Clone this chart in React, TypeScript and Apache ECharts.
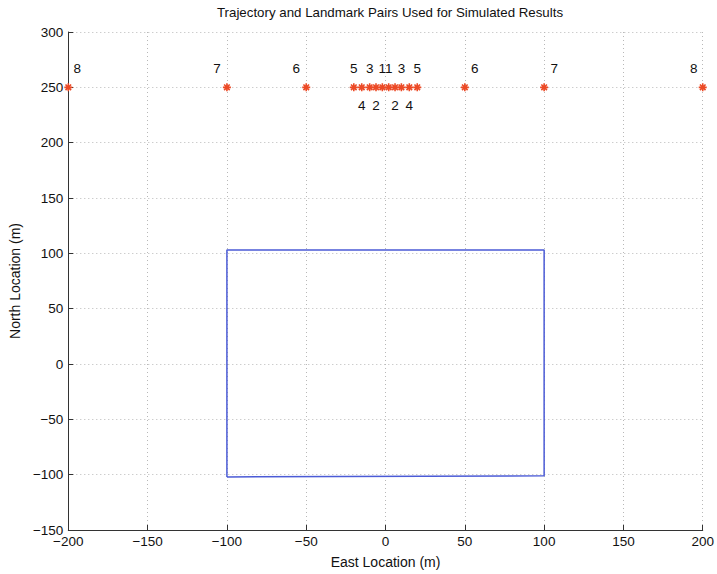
import React, { useEffect, useRef } from "react";
import * as echarts from "echarts";

// Landmark pairs: each pair sits symmetrically east/west of the origin at the same north coordinate
const pairIds = [1, 2, 3, 4, 5, 6, 7, 8];
const pairEast = [2, 6, 10, 15, 20, 50, 100, 200];
const landmarkNorth = 250;

// Vehicle trajectory (closed loop)
const trajEast = [-100, -100, 100, 100, -100];
const trajNorth = [-102, 103, 103, -101, -102];

const xTicks = { min: -200, max: 200, step: 50 };
const yTicks = { min: -150, max: 300, step: 50 };

const FONT = "'Liberation Sans', Arial, Helvetica, sans-serif";
const STAR = "#ec4a26";
const TRAJ = "#4b5bd6";
const AXIS = "#333";
const INK = "#111";
const minus = (v: number) => String(v).replace("-", "\u2212");

// Asterisk marker made of strokes
const ASTERISK = "path://M0,-10L0,10M-10,0L10,0M-7,-7L7,7M-7,7L7,-7";

function labelPlacement(pair: number, side: number) {
  // inner cluster: odd numbers above, even numbers below
  if (pair <= 5) {
    return { position: pair % 2 === 1 ? "top" : "bottom", dx: 0 };
  }
  if (pair === 8) return { position: "top", dx: -side * 9 };
  return { position: "top", dx: side * 10 };
}

export default function App() {
  const ref = useRef<HTMLDivElement>(null);

  useEffect(() => {
    document.body.style.margin = "0";
    document.body.style.overflow = "hidden";
    if (!ref.current) return;
    const chart = echarts.init(ref.current, undefined, { renderer: "svg" });

    const landmarks: any[] = [];
    pairIds.forEach((id, i) => {
      [-1, 1].forEach((side) => {
        const p = labelPlacement(id, side);
        landmarks.push({
          value: [side * pairEast[i], landmarkNorth],
          label: {
            show: true,
            formatter: String(id),
            position: p.position,
            distance: 5,
            offset: [p.dx, 0],
            color: INK,
            textBorderWidth: 0,
            fontSize: 13.5,
            fontFamily: FONT,
          },
        });
      });
    });

    const trajectory = trajEast.map((e, i) => [e, trajNorth[i]]);

    const axisCommon = {
      type: "value" as const,
      axisLine: { show: true, onZero: false, lineStyle: { color: AXIS, width: 1 } },
      axisTick: { show: true, inside: true, length: 5, lineStyle: { color: AXIS } },
      splitLine: { show: true, lineStyle: { color: "#b8b8b8", type: [1, 3] as any, width: 1 } },
      axisLabel: {
        color: INK,
        fontSize: 13.5,
        fontFamily: FONT,
        formatter: (v: number) => minus(v),
      },
      nameLocation: "middle" as const,
      nameTextStyle: { color: INK, fontSize: 14, fontFamily: FONT },
    };

    chart.setOption({
      animation: false,
      backgroundColor: "#fff",
      title: {
        text: "Trajectory and Landmark Pairs Used for Simulated Results",
        left: 385,
        textAlign: "center",
        top: 1,
        textStyle: { color: INK, fontSize: 13.3, fontWeight: "normal", fontFamily: FONT },
      },
      grid: { left: 67, right: 13, top: 32, bottom: 40 },
      xAxis: {
        ...axisCommon,
        min: xTicks.min,
        max: xTicks.max,
        interval: xTicks.step,
        name: "East Location (m)",
        nameGap: 25,
        axisLabel: { ...axisCommon.axisLabel, margin: 4 },
      },
      yAxis: {
        ...axisCommon,
        min: yTicks.min,
        max: yTicks.max,
        interval: yTicks.step,
        name: "North Location (m)",
        nameGap: 43,
        axisLabel: { ...axisCommon.axisLabel, margin: 5 },
      },
      series: [
        {
          type: "line",
          data: trajectory,
          symbol: "none",
          lineStyle: { color: TRAJ, width: 1.5 },
          z: 3,
        },
        {
          type: "scatter",
          data: landmarks,
          symbol: ASTERISK,
          symbolSize: 8,
          itemStyle: { color: "none", borderColor: STAR, borderWidth: 1.6, opacity: 1 },
          z: 4,
        },
      ],
    });

    return () => chart.dispose();
  }, []);

  return <div ref={ref} style={{ width: 717, height: 574 }} />;
}
